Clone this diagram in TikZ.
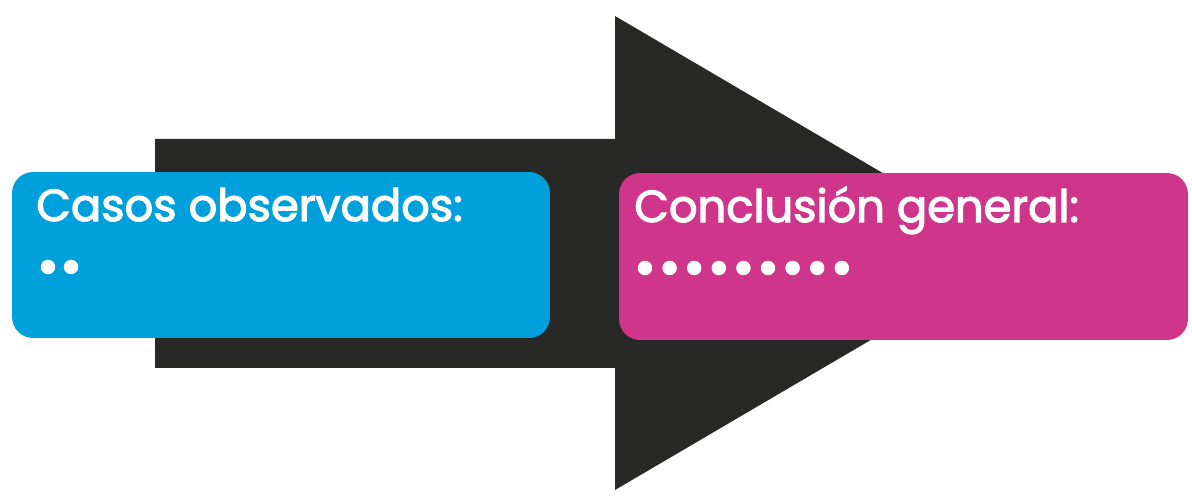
\documentclass[tikz,border=0pt]{standalone}
\usepackage{fontspec}
\newfontfamily\boxfont{Poppins}[FakeBold=2.6]
\usetikzlibrary{positioning}
\definecolor{charcoal}{RGB}{40,40,38}
\definecolor{casosblue}{RGB}{0,160,220}
\definecolor{conclpink}{RGB}{207,53,139}
\tikzset{%
  box/.style={rectangle, rounded corners=0.42cm, inner sep=0pt},% coloured text box
  boxtitle/.style={anchor=base west, inner sep=0pt, text=white,
    font=\boxfont\fontsize{25.5}{30}\selectfont},% white heading
  dot/.style={circle, fill=white, inner sep=0pt, minimum size=0.29cm}% placeholder dot
}
\begin{document}
\begin{tikzpicture}[x=0.02cm, y=-0.02cm]
\useasboundingbox (0,0) rectangle (1192,499);

% big arrow behind the boxes
\fill[charcoal] (155,139) -- (615,139) -- (615,16) -- (1019,253)
  -- (615,490) -- (615,368) -- (155,368) -- cycle;

\node[box, fill=casosblue, minimum width=10.76cm, minimum height=3.32cm] (casos) at (281,255) {};
\node[box, fill=conclpink, minimum width=11.38cm, minimum height=3.34cm] (concl) at (903.5,256.5) {};

\node[boxtitle] (casostitle) at (36,221) {Casos observados:};
\node[boxtitle] (concltitle) at (634,222) {Conclusión general:};

\foreach \i in {0,1}
  \node[dot] (cdot\i) at (48+23*\i,267) {};
\foreach \i in {0,...,8}
  \node[dot] (gdot\i) at (645+24.6*\i,268) {};

\end{tikzpicture}
\end{document}
